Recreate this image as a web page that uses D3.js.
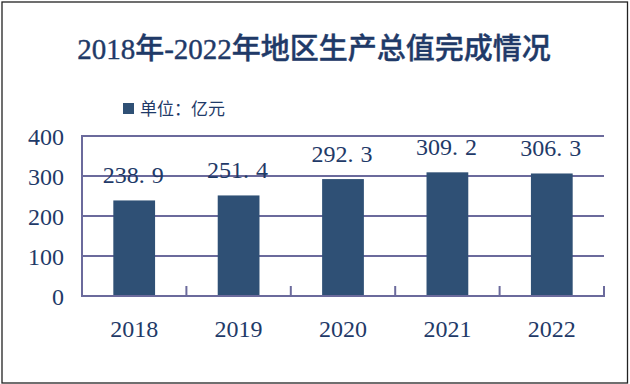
<!DOCTYPE html>
<html>
<head>
<meta charset="utf-8">
<script src="https://cdn.jsdelivr.net/npm/d3@7/dist/d3.min.js"></script>
<style>
html,body{margin:0;padding:0;background:#fff;}
svg{display:block;}
</style>
</head>
<body>
<svg id="chart" width="630" height="384"></svg>
<script>
const categories = ["2018", "2019", "2020", "2021", "2022"];
const values = [238.9, 251.4, 292.3, 309.2, 306.3];
const yTicks = [0, 100, 200, 300, 400];
const titleText = "2018年-2022年地区生产总值完成情况";
const legendText = "单位：亿元";

const W = 630, H = 384;
const margin = {left: 82, right: 26, top: 136, bottom: 88};
const textColor = "#1F3A68";
const barColor = "#2F5075";
const gridColor = "#6B6A9C";
const serif = "'Liberation Serif', 'DejaVu Serif', 'Noto Sans CJK SC', serif";

const svg = d3.select("#chart");
svg.append("rect").attr("x", 0).attr("y", 0).attr("width", W).attr("height", H).attr("fill", "#fff");
svg.append("rect").attr("x", 2).attr("y", 2).attr("width", W - 4.5).attr("height", H - 3)
  .attr("fill", "none").attr("stroke", "#222").attr("stroke-width", 1.3);

const x = d3.scaleBand().domain(categories)
  .range([margin.left, W - margin.right]).paddingInner(0.6).paddingOuter(0.3);
const y = d3.scaleLinear().domain([0, 400]).range([H - margin.bottom, margin.top]);

// title
svg.append("text").attr("x", 314).attr("y", 59).attr("text-anchor", "middle")
  .attr("font-family", serif).attr("font-size", 29).attr("font-weight", 500)
  .attr("fill", textColor).attr("stroke", textColor).attr("stroke-width", 0.4)
  .text(titleText);

// legend
svg.append("rect").attr("x", 123).attr("y", 103).attr("width", 11).attr("height", 11).attr("fill", barColor);
svg.append("text").attr("x", 140).attr("y", 114.5)
  .attr("font-family", "'Noto Sans CJK SC', sans-serif").attr("font-size", 17)
  .attr("fill", textColor).text(legendText);

// gridlines
svg.append("g").selectAll("line").data(yTicks.filter(d => d > 0)).join("line")
  .attr("x1", margin.left).attr("x2", W - margin.right)
  .attr("y1", d => y(d)).attr("y2", d => y(d))
  .attr("stroke", gridColor).attr("stroke-width", 1.8);

// bars
svg.append("g").selectAll("rect").data(values).join("rect")
  .attr("x", (d, i) => x(categories[i]))
  .attr("width", x.bandwidth())
  .attr("y", d => y(d))
  .attr("height", d => y(0) - y(d))
  .attr("fill", barColor);

// axes lines
const bottomY = y(0);
svg.append("line").attr("x1", margin.left).attr("x2", margin.left)
  .attr("y1", y(400) - 1).attr("y2", bottomY + 1)
  .attr("stroke", gridColor).attr("stroke-width", 2);
svg.append("line").attr("x1", margin.left - 1).attr("x2", W - margin.right + 1)
  .attr("y1", bottomY).attr("y2", bottomY)
  .attr("stroke", gridColor).attr("stroke-width", 2);
// category boundary ticks
const step = x.step();
const boundaries = categories.map((c, i) => x(c) + x.bandwidth() / 2 + step / 2);
svg.append("g").selectAll("line").data(boundaries).join("line")
  .attr("x1", d => d).attr("x2", d => d)
  .attr("y1", bottomY).attr("y2", bottomY - 10)
  .attr("stroke", gridColor).attr("stroke-width", 2);

// y labels
svg.append("g").selectAll("text").data(yTicks).join("text")
  .attr("x", 64).attr("y", d => y(d) + 8.5).attr("text-anchor", "end")
  .attr("font-family", serif).attr("font-size", 24).attr("fill", textColor)
  .text(d => d);

// x labels
svg.append("g").selectAll("text").data(categories).join("text")
  .attr("x", d => x(d) + x.bandwidth() / 2).attr("y", 337).attr("text-anchor", "middle")
  .attr("font-family", serif).attr("font-size", 24).attr("fill", textColor)
  .text(d => d);

// value labels
const vl = svg.append("g").selectAll("text").data(values).join("text")
  .attr("x", (d, i) => x(categories[i]) + x.bandwidth() / 2 - 1)
  .attr("y", d => y(d) - 17).attr("text-anchor", "middle")
  .attr("font-family", serif).attr("font-size", 24).attr("fill", textColor);
vl.each(function(d) {
  const s = d.toFixed(1).split(".");
  const t = d3.select(this);
  t.append("tspan").text(s[0] + ".");
  t.append("tspan").attr("dx", 7).text(s[1]);
});
</script>
</body>
</html>
